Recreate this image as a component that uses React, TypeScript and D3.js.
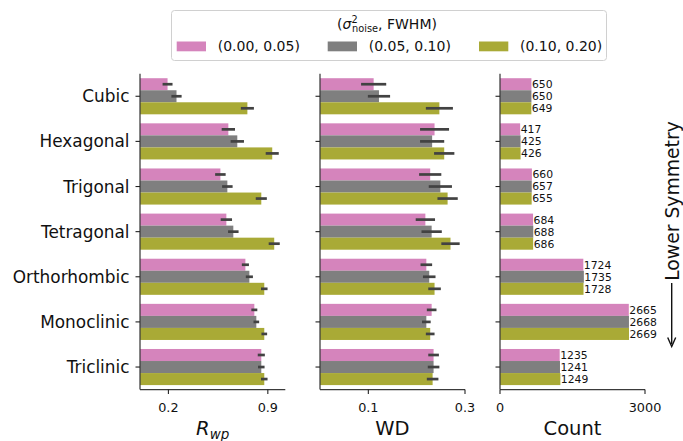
import React from "react";
import * as d3 from "d3";

const categories = ["Cubic", "Hexagonal", "Trigonal", "Tetragonal", "Orthorhombic", "Monoclinic", "Triclinic"];
const groups = ["(0.00, 0.05)", "(0.05, 0.10)", "(0.10, 0.20)"];
const colors = ["#d584bc", "#7f7f7f", "#a9aa36"];

const rwpLow = [0.194, 0.622, 0.566, 0.608, 0.742, 0.805, 0.854];
const rwpMid = [0.257, 0.685, 0.615, 0.657, 0.770, 0.819, 0.854];
const rwpHigh = [0.756, 0.931, 0.854, 0.945, 0.875, 0.875, 0.875];
const rwpErrLow = [0.035, 0.047, 0.037, 0.040, 0.025, 0.021, 0.025];
const rwpErrMid = [0.036, 0.047, 0.037, 0.037, 0.025, 0.020, 0.023];
const rwpErrHigh = [0.046, 0.046, 0.039, 0.039, 0.023, 0.020, 0.023];

const wdLow = [0.111, 0.237, 0.228, 0.218, 0.220, 0.231, 0.235];
const wdMid = [0.122, 0.232, 0.249, 0.231, 0.226, 0.220, 0.235];
const wdHigh = [0.247, 0.257, 0.264, 0.270, 0.237, 0.228, 0.233];
const wdErrLow = [0.026, 0.030, 0.023, 0.020, 0.012, 0.010, 0.011];
const wdErrMid = [0.023, 0.025, 0.024, 0.021, 0.013, 0.009, 0.012];
const wdErrHigh = [0.028, 0.021, 0.021, 0.019, 0.013, 0.009, 0.012];

const cntLow = [650, 417, 660, 684, 1724, 2665, 1235];
const cntMid = [650, 425, 657, 688, 1735, 2668, 1241];
const cntHigh = [649, 426, 655, 686, 1728, 2669, 1249];

const rwpTicks = [0.2, 0.9];
const wdTicks = [0.1, 0.3];
const cntTicks = [0, 3000];

const FONT = "DejaVu Sans";
const W = 683, H = 441;
const yTop = 73.7, yBot = 389.6;

type PanelProps = {
  x0: number; x1: number; domain: [number, number]; ticks: number[];
  series: number[][]; errs?: number[][]; labels?: boolean; showCats?: boolean;
  tickFmt: (v: number) => string;
};

function Panel({ x0, x1, domain, ticks, series, errs, labels, showCats, tickFmt }: PanelProps) {
  const x = d3.scaleLinear().domain(domain).range([x0, x1]);
  const y = d3.scaleBand<string>().domain(categories).range([yTop, yBot]).paddingInner(0.2).paddingOuter(0.1);
  const sub = d3.scaleBand<number>().domain([0, 1, 2]).range([0, y.bandwidth()]);
  const centerY = (c: string) => (y(c) as number) + y.bandwidth() / 2;
  return (
    <g>
      {categories.map((c, i) =>
        series.map((s, g) => {
          const by = (y(c) as number) + (sub(g) as number);
          return (
            <rect key={c + g} x={x(0)} y={by} width={x(s[i]) - x(0)} height={sub.bandwidth()} fill={colors[g]} />
          );
        })
      )}
      {errs && categories.map((c, i) =>
        series.map((s, g) => {
          const cy = (y(c) as number) + (sub(g) as number) + sub.bandwidth() / 2;
          return (
            <line key={"e" + c + g} x1={x(s[i] - errs[g][i])} x2={x(s[i] + errs[g][i])} y1={cy} y2={cy}
              stroke="#424242" strokeWidth={2.7} />
          );
        })
      )}
      {labels && categories.map((c, i) =>
        series.map((s, g) => {
          const cy = (y(c) as number) + (sub(g) as number) + sub.bandwidth() / 2;
          return (
            <text key={"l" + c + g} x={x(s[i]) + 0.5} y={cy} dy="0.36em" fontSize={10.8} fontFamily={FONT} fill="#111">
              {s[i]}
            </text>
          );
        })
      )}
      <line x1={x0} x2={x0} y1={yTop} y2={yBot} stroke="#3a3a3a" strokeWidth={1.25} />
      <line x1={x0} x2={x1} y1={yBot} y2={yBot} stroke="#3a3a3a" strokeWidth={1.25} />
      {categories.map((c) => (
        <g key={"yt" + c}>
          <line x1={x0 - 4.5} x2={x0} y1={centerY(c)} y2={centerY(c)} stroke="#222" strokeWidth={1.1} />
          {showCats && (
            <text x={x0 - 10.5} y={centerY(c)} dy="0.36em" textAnchor="end" fontSize={16.9} fontFamily={FONT} fill="#111">
              {c}
            </text>
          )}
        </g>
      ))}
      {ticks.map((t) => (
        <g key={"xt" + t}>
          <line x1={x(t)} x2={x(t)} y1={yBot} y2={yBot + 4.5} stroke="#222" strokeWidth={1.1} />
          <text x={x(t)} y={411.5} textAnchor="middle" fontSize={12.8} fontFamily={FONT} fill="#111">
            {tickFmt(t)}
          </text>
        </g>
      ))}
    </g>
  );
}

export default function App() {
  const legendX = [176.7, 327.7, 479];
  return (
    <div style={{ position: "absolute", left: 0, top: 0, width: W, height: H, background: "#fff" }}>
      <svg width={W} height={H} viewBox={`0 0 ${W} ${H}`} style={{ display: "block" }}>
        <rect width={W} height={H} fill="#fff" />
        <Panel x0={140} x1={285.3} domain={[0, 1.023]} ticks={rwpTicks} series={[rwpLow, rwpMid, rwpHigh]}
          errs={[rwpErrLow, rwpErrMid, rwpErrHigh]} showCats tickFmt={(v) => v.toFixed(1)} />
        <Panel x0={320} x1={465} domain={[0, 0.3]} ticks={wdTicks} series={[wdLow, wdMid, wdHigh]}
          errs={[wdErrLow, wdErrMid, wdErrHigh]} tickFmt={(v) => v.toFixed(1)} />
        <Panel x0={500} x1={645} domain={[0, 3000]} ticks={cntTicks} series={[cntLow, cntMid, cntHigh]}
          labels tickFmt={(v) => String(v)} />

        <text x={212.7} y={435} textAnchor="middle" fontSize={19.5} fontFamily={FONT} fontStyle="italic" fill="#111">
          R<tspan fontSize={13.5} dy={4}>wp</tspan>
        </text>
        <text x={392.5} y={435} textAnchor="middle" fontSize={19.5} fontFamily={FONT} fill="#111">WD</text>
        <text x={572.5} y={435} textAnchor="middle" fontSize={19.5} fontFamily={FONT} fill="#111">Count</text>

        <text transform="translate(678.5,201) rotate(-90)" textAnchor="middle" fontSize={18.8} fontFamily={FONT} fill="#111">
          Lower Symmetry
        </text>
        <line x1={671.7} x2={671.7} y1={283} y2={344} stroke="#111" strokeWidth={1.4} />
        <path d="M667.7,337.5 L671.7,346.5 L675.7,337.5" fill="none" stroke="#111" strokeWidth={1.4} />

        <rect x={171.5} y={10.5} width={435} height={50} rx={3} fill="#fff" stroke="#d0d0d0" strokeWidth={1} />
        <text x={387} y={28.5} textAnchor="middle" fontSize={14} fontFamily={FONT} fill="#111">
          (<tspan fontStyle="italic">σ</tspan>
          <tspan fontSize={9.8} dy={-6}>2</tspan>
          <tspan fontSize={9.8} dx={-5.6} dy={9.5}>noise</tspan>
          <tspan dy={-3.5}>, FWHM)</tspan>
        </text>
        {groups.map((g, i) => (
          <g key={g}>
            <rect x={legendX[i]} y={41.5} width={29.3} height={9.8} fill={colors[i]} />
            <text x={legendX[i] + 41} y={51.3} fontSize={14} fontFamily={FONT} fill="#111">{g}</text>
          </g>
        ))}
      </svg>
    </div>
  );
}
